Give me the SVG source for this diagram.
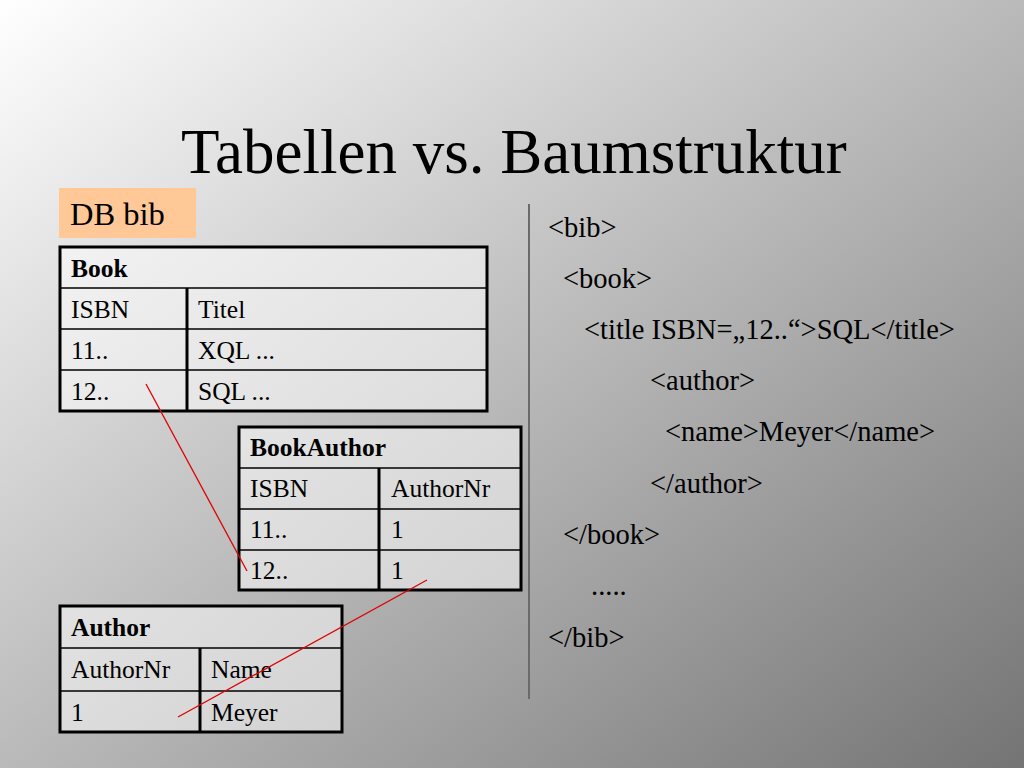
<svg xmlns="http://www.w3.org/2000/svg" width="1024" height="768" viewBox="0 0 1024 768" font-family="'Liberation Serif','Times New Roman',serif">
<defs>
<linearGradient id="bg" x1="0" y1="0" x2="1" y2="1">
<stop offset="0" stop-color="#ffffff"/>
<stop offset="1" stop-color="#747474"/>
</linearGradient>
<style>
text{font-family:"Liberation Serif","Times New Roman",serif;fill:#000}
.cell{font-size:25.5px}
.hdr{font-size:25.5px;font-weight:bold}
.xml{font-size:28.5px}
.big{font-size:63px}
.db{font-size:32.5px}
.tbl{fill:#ffffff;fill-opacity:0.5;stroke:none}
.outer{fill:none;stroke:#000;stroke-width:3}
.row{stroke:#000;stroke-width:1.5}
.col{stroke:#000;stroke-width:3}
.link{stroke:#e00000;stroke-width:1.3;fill:none}
</style>
</defs>
<rect width="1024" height="768" fill="url(#bg)"/>
<text class="big" x="181" y="173">Tabellen vs. Baumstruktur</text>

<g id="dbbib">
<rect x="59" y="188" width="137" height="50" fill="#ffc896"/>
<text class="db" x="70" y="225">DB bib</text>
</g>

<g id="book">
<rect class="tbl" x="60" y="247" width="427" height="164"/>
<line class="row" x1="60" y1="288" x2="487" y2="288"/>
<line class="row" x1="60" y1="329" x2="487" y2="329"/>
<line class="row" x1="60" y1="370" x2="487" y2="370"/>
<line class="col" x1="187" y1="288" x2="187" y2="411"/>
<rect class="outer" x="60" y="247" width="427" height="164"/>
<text class="hdr" x="71" y="277">Book</text>
<text class="cell" x="71" y="318">ISBN</text>
<text class="cell" x="198" y="318">Titel</text>
<text class="cell" x="71" y="359">11..</text>
<text class="cell" x="198" y="359">XQL ...</text>
<text class="cell" x="71" y="400">12..</text>
<text class="cell" x="198" y="400">SQL ...</text>
</g>

<g id="bookauthor">
<rect class="tbl" x="239" y="427" width="282" height="163"/>
<line class="row" x1="239" y1="468" x2="521" y2="468"/>
<line class="row" x1="239" y1="509" x2="521" y2="509"/>
<line class="row" x1="239" y1="550" x2="521" y2="550"/>
<line class="col" x1="379" y1="468" x2="379" y2="590"/>
<rect class="outer" x="239" y="427" width="282" height="163"/>
<text class="hdr" x="250" y="456">BookAuthor</text>
<text class="cell" x="250" y="497">ISBN</text>
<text class="cell" x="391" y="497">AuthorNr</text>
<text class="cell" x="250" y="538">11..</text>
<text class="cell" x="391" y="538">1</text>
<text class="cell" x="250" y="579">12..</text>
<text class="cell" x="391" y="579">1</text>
</g>

<g id="author">
<rect class="tbl" x="60" y="606" width="282" height="126"/>
<line class="row" x1="60" y1="648" x2="342" y2="648"/>
<line class="row" x1="60" y1="691" x2="342" y2="691"/>
<line class="col" x1="200" y1="648" x2="200" y2="732"/>
<rect class="outer" x="60" y="606" width="282" height="126"/>
<text class="hdr" x="71" y="636">Author</text>
<text class="cell" x="71" y="678">AuthorNr</text>
<text class="cell" x="211" y="678">Name</text>
<text class="cell" x="71" y="721">1</text>
<text class="cell" x="211" y="721">Meyer</text>
</g>

<g id="connectors">
<line class="link" x1="146" y1="384" x2="247" y2="571"/>
<line class="link" x1="427" y1="580" x2="178" y2="717"/>
</g>

<g id="separator">
<line x1="529" y1="204" x2="529" y2="699" stroke="#6a6a6a" stroke-width="2"/>
</g>

<g id="xml">
<text class="xml" x="548" y="237">&lt;bib&gt;</text>
<text class="xml" x="563" y="288">&lt;book&gt;</text>
<text class="xml" x="584" y="339">&lt;title ISBN=„12..“&gt;SQL&lt;/title&gt;</text>
<text class="xml" x="650" y="390">&lt;author&gt;</text>
<text class="xml" x="665" y="441">&lt;name&gt;Meyer&lt;/name&gt;</text>
<text class="xml" x="650" y="493">&lt;/author&gt;</text>
<text class="xml" x="563" y="544">&lt;/book&gt;</text>
<text class="xml" x="591" y="595">.....</text>
<text class="xml" x="548" y="647">&lt;/bib&gt;</text>
</g>
</svg>
